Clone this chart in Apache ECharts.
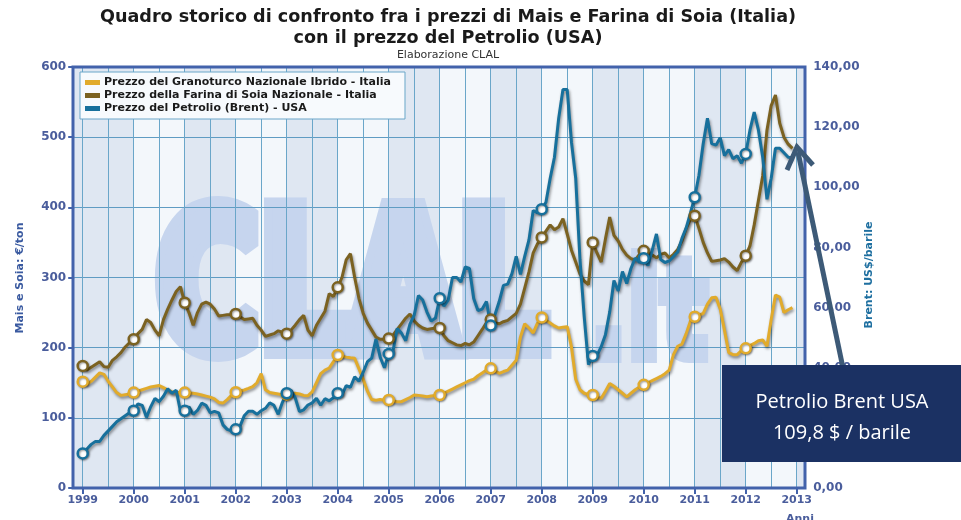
<!DOCTYPE html>
<html>
<head>
<meta charset="utf-8">
<script src="https://cdn.jsdelivr.net/npm/echarts@6/dist/echarts.min.js"></script>
<style>
  html, body { margin: 0; padding: 0; background: #fff; }
  #chart { width: 961px; height: 520px; }
</style>
</head>
<body>
<div id="chart"></div>
<script>
/* ---------------------------- data (monthly) ---------------------------- */

var years = [1999, 2000, 2001, 2002, 2003, 2004, 2005, 2006, 2007, 2008, 2009, 2010, 2011, 2012, 2013];

var seriesNames = [
    'Prezzo del Granoturco Nazionale Ibrido - Italia',
    'Prezzo della Farina di Soia Nazionale - Italia',
    'Prezzo del Petrolio (Brent) - USA'
];

// €/ton, Jan 1999 .. Dec 2012
var maize = [
    151.5, 148, 152, 158, 164, 162, 152, 144, 136, 132, 133, 134,
    136, 138, 140, 142, 144, 145, 146, 143, 140, 137, 136, 136,
    136, 135.5, 135, 134, 132.5, 131, 129.5, 127, 122, 121, 126, 132,
    136.4, 138, 139.7, 142, 144.4, 150, 163, 140, 136, 135, 134, 133,
    133, 134, 135, 134, 132, 131.6, 137, 150, 163, 168, 171, 180,
    189.5, 188, 186.5, 185.5, 184.8, 170, 155, 138, 126, 125, 126, 125,
    125.4, 124, 123, 123, 126, 129, 132.5, 132, 131, 130, 131, 132,
    132.5, 135, 138, 141, 144, 147, 150, 153, 155, 160, 164, 168,
    170.6, 167, 163.5, 166, 168, 175, 182, 215, 234, 228, 221, 235,
    243, 239, 235, 231, 228, 229, 230, 201, 155, 140, 135, 133,
    132.5, 129, 128, 138, 149, 145, 140, 135, 130, 135, 140, 144,
    147, 150, 153, 156, 159, 163, 168, 190, 202, 205, 220, 238,
    244, 246, 249, 262, 271, 272, 255, 225, 193, 190, 190, 196,
    199, 203, 206, 210, 211, 202, 240, 275, 272, 250, 254, 257
];

// €/ton, Jan 1999 .. Dec 2012
var soy = [
    174, 168, 172, 176, 180, 173, 172, 182, 187, 193, 201, 207,
    212, 220, 226, 240, 236, 225, 217, 240, 255, 268, 280, 287,
    264, 250, 232, 250, 262, 265, 262, 255, 245, 246, 247, 247,
    248, 244, 240, 241, 242, 232, 225, 216, 218, 220, 224, 222,
    220, 225, 232, 240, 246, 225, 217, 232, 242, 252, 277, 273,
    286, 300, 325, 334, 300, 270, 249, 235, 225, 215, 212, 212,
    213, 218, 226, 234, 242, 248, 238, 232, 228, 226, 227, 228,
    228, 217, 210, 207, 204, 203, 206, 204, 208, 217, 226, 236,
    240, 236, 234, 237, 239, 244, 249, 262, 285, 308, 335, 348,
    357, 366, 375, 368, 372, 384, 362, 339, 322, 305, 295, 290,
    350, 335, 322, 355, 386, 360, 352, 340, 332, 327, 325, 333,
    338, 335, 332, 328, 333, 335, 328, 333, 340, 352, 370, 383,
    388, 370, 350, 335, 323, 324, 325, 327, 322, 315, 310, 322,
    331, 345, 375, 410, 445, 510, 545, 560, 520, 500, 490, 484
];

// US$/barile, Jan 1999 .. Dec 2012
var brent = [
    11.5, 13, 14.5, 15.5, 15.5, 17.5, 19, 20.5, 22, 23, 24, 25,
    25.7, 28, 27.5, 23.5, 27, 29.8, 28.7, 30.5, 33, 31.5, 32.5, 25.5,
    25.7, 27, 24.5, 25.8, 28.2, 27.5, 25, 25.5, 25, 21, 19.5, 19,
    19.5, 20.5, 24, 25.5, 25.5, 24.5, 25.7, 26.5, 28.3, 27.5, 24.5, 28.5,
    31.5, 32.5, 30, 25.4, 26, 27.6, 28.3, 29.8, 27.5, 29.7, 29, 30,
    31.5, 31, 34, 33.5, 37, 35.5, 38.5, 42, 43.2, 49.5, 43.5, 40,
    44.6, 45.5, 53, 51.5, 49, 54.5, 57.5, 64, 62.5, 58.5, 55.5, 56.5,
    63.1, 60.5, 62.5, 70, 70, 68.5, 73.5, 73, 63, 59, 59.5, 62,
    54, 57.6, 62, 67.4, 67.8, 71.3, 77, 71, 77, 82.5, 92.3, 91.5,
    92.7, 95, 103, 110, 123, 132.5, 132.5, 115, 103, 76, 57, 41,
    43.9, 44, 47, 51, 58.5, 69, 65.5, 72, 68, 73, 76.5, 75,
    76.4, 74, 79, 84.5, 76, 75, 75.5, 77, 78.5, 83, 86.5, 91.5,
    96.7, 104, 114.5, 123, 114.5, 114, 116.5, 110.5, 112.5, 109.5, 110.5, 108,
    111.1, 119, 125, 119, 110, 96, 103, 113, 113, 111.5, 110, 109.8
];

var lastBrentLabel = '109,8 $ / barile';

/* ------------------------------- helpers -------------------------------- */

function pad2(n) { return (n < 10 ? '0' : '') + n; }

// month categories: Nov 1998 .. Mar 2013
var months = ['1998-11', '1998-12'];
years.forEach(function (y) {
    var last = y === 2013 ? 3 : 12;
    for (var m = 1; m <= last; m++) months.push(y + '-' + pad2(m));
});

// january points carry the round marker
function toSeriesData(values) {
    var out = [null, null];
    values.forEach(function (v, i) {
        out.push(i % 12 === 0 ? { value: v, symbol: 'circle', symbolSize: 10 } : v);
    });
    return out;
}

// alternating yearly bands
var bands = [[{ xAxis: '1998-11' }, { xAxis: '2000-01' }]];
for (var y = 2001; y <= 2011; y += 2) {
    bands.push([{ xAxis: y + '-01' }, { xAxis: (y + 1) + '-01' }]);
}
bands.push([{ xAxis: '2013-01' }, { xAxis: '2013-03' }]);

var colors = ['#e1ab2c', '#7b6221', '#17709c'];
var axisBlue = '#4262ab';
var labelBlue = '#4a5d9c';
var gridLine = '#6aa6c9';
var markColor = '#c6d5ee';
var font = '"DejaVu Sans", Verdana, sans-serif';

function lineSeries(idx, values, yAxisIndex) {
    return {
        name: seriesNames[idx],
        type: 'line',
        yAxisIndex: yAxisIndex,
        data: toSeriesData(values),
        symbol: 'none',
        showSymbol: true,
        showAllSymbol: true,
        z: 5,
        silent: true,
        lineStyle: {
            color: colors[idx],
            width: 3,
            shadowColor: 'rgba(0,0,0,0.45)',
            shadowBlur: 3,
            shadowOffsetX: 1,
            shadowOffsetY: 2
        },
        itemStyle: {
            color: '#ffffff',
            borderColor: colors[idx],
            borderWidth: 2.5,
            shadowColor: 'rgba(0,0,0,0.4)',
            shadowBlur: 2,
            shadowOffsetX: 1,
            shadowOffsetY: 1
        },
        emphasis: { disabled: true }
    };
}

/* -------------------------------- chart --------------------------------- */

var chart = echarts.init(document.getElementById('chart'));

chart.setOption({
    animation: false,
    backgroundColor: '#ffffff',
    title: {
        text: 'Quadro storico di confronto fra i prezzi di Mais e Farina di Soia (Italia)\ncon il prezzo del Petrolio (USA)',
        subtext: 'Elaborazione CLAL',
        left: 443,
        top: 2,
        textAlign: 'center',
        itemGap: 0,
        textStyle: { fontFamily: font, fontSize: 17.6, fontWeight: 'bold', color: '#1a1a1a', lineHeight: 21 },
        subtextStyle: { fontFamily: font, fontSize: 11, color: '#333', lineHeight: 12 }
    },
    legend: {
        orient: 'vertical',
        left: 80,
        top: 72,
        icon: 'rect',
        itemWidth: 15,
        itemHeight: 5,
        itemGap: 2,
        padding: [5, 14, 5, 5],
        backgroundColor: '#f7fafd',
        borderColor: gridLine,
        borderWidth: 1,
        z: 7,
        selectedMode: false,
        textStyle: { fontFamily: font, fontSize: 11, fontWeight: 'bold', color: '#1a1a1a', padding: [0, 0, 0, -1] },
        data: seriesNames.map(function (n, i) {
            return { name: n, itemStyle: { color: colors[i], borderWidth: 0, shadowBlur: 0 } };
        })
    },
    grid: {
        left: 74.2,
        right: 155.8,
        top: 67,
        bottom: 32,
        show: true,
        backgroundColor: '#f3f7fb',
        borderWidth: 0
    },
    xAxis: {
        type: 'category',
        data: months,
        boundaryGap: false,
        z: 3,
        axisLine: { show: false },
        axisTick: {
            show: true,
            length: 6,
            interval: function (i, v) { return v.slice(5) === '01'; },
            lineStyle: { color: axisBlue, width: 2 }
        },
        axisLabel: {
            interval: function (i, v) { return v.slice(5) === '01'; },
            formatter: function (v) { return v.slice(0, 4); },
            margin: 7,
            fontFamily: font,
            fontSize: 11,
            fontWeight: 'bold',
            color: labelBlue
        },
        splitLine: {
            show: true,
            interval: function (i, v) { var m = v.slice(5); return m === '01' || m === '07'; },
            lineStyle: { color: gridLine, width: 1 }
        }
    },
    yAxis: [{
        type: 'value',
        min: 0,
        max: 600,
        interval: 100,
        z: 3,
        axisLine: { show: false },
        axisTick: { show: true, length: 6, lineStyle: { color: axisBlue, width: 2 } },
        axisLabel: { margin: 8, fontFamily: font, fontSize: 12, fontWeight: 'bold', color: labelBlue },
        splitLine: { show: true, lineStyle: { color: '#5f9cc3', width: 1 } }
    }, {
        type: 'value',
        min: 0,
        max: 140,
        interval: 20,
        position: 'right',
        z: 3,
        axisLine: { show: false },
        axisTick: { show: false },
        axisLabel: {
            margin: 8,
            fontFamily: font,
            fontSize: 12,
            fontWeight: 'bold',
            color: labelBlue,
            formatter: function (v) { return v.toFixed(2).replace('.', ','); }
        },
        splitLine: { show: false }
    }],
    series: [
        (function () {
            var s = lineSeries(0, maize, 0);
            s.markArea = { silent: true, z: 1, itemStyle: { color: '#dfe7f2', borderWidth: 0 }, data: bands };
            return s;
        })(),
        lineSeries(1, soy, 0),
        lineSeries(2, brent, 1)
    ],
    graphic: [
        // watermark
        {
            type: 'text', x: 156, y: 299, scaleX: 0.74, z: 2, silent: true,
            style: {
                text: 'CLAL', fill: markColor, stroke: markColor, lineWidth: 22, lineJoin: 'round',
                font: 'bold 190px "DejaVu Sans"', align: 'left', verticalAlign: 'middle', textAlign: 'left', textVerticalAlign: 'middle'
            }
        },
        {
            type: 'text', x: 590, y: 322, scaleX: 0.72, z: 2, silent: true,
            style: {
                text: '.it', fill: markColor, stroke: markColor, lineWidth: 12, lineJoin: 'round',
                font: 'bold 136px "DejaVu Sans"', align: 'left', verticalAlign: 'middle', textAlign: 'left', textVerticalAlign: 'middle'
            }
        },
        // plot frame
        {
            type: 'rect', z: 6, silent: true,
            shape: { x: 73, y: 67, width: 732, height: 421 },
            style: { fill: 'none', stroke: axisBlue, lineWidth: 3 }
        },
        // axis names
        {
            type: 'text', x: 20, y: 278, rotation: Math.PI / 2, z: 6,
            style: { text: 'Mais e Soia: €/ton', fill: '#3a5aa0', font: 'bold 11px "DejaVu Sans"', align: 'center', verticalAlign: 'middle', textAlign: 'center', textVerticalAlign: 'middle' }
        },
        {
            type: 'text', x: 869, y: 275, rotation: Math.PI / 2, z: 6,
            style: { text: 'Brent: US$/barile', fill: '#1e6fa0', font: 'bold 11px "DejaVu Sans"', align: 'center', verticalAlign: 'middle', textAlign: 'center', textVerticalAlign: 'middle' }
        },
        {
            type: 'text', x: 800, y: 514, z: 6,
            style: { text: 'Anni', fill: labelBlue, font: 'bold 11px "DejaVu Sans"', align: 'center', verticalAlign: 'top', textAlign: 'center', textVerticalAlign: 'top' }
        },
        // annotation arrow
        {
            type: 'line', z: 9, silent: true,
            shape: { x1: 843, y1: 368, x2: 798, y2: 152 },
            style: { stroke: '#3d5a77', lineWidth: 5 }
        },
        {
            type: 'polyline', z: 9, silent: true,
            shape: { points: [[787, 170], [797, 147], [813, 165]] },
            style: { stroke: '#3d5a77', lineWidth: 5, fill: 'none' }
        },
        // annotation box
        {
            type: 'rect', z: 10, silent: true,
            shape: { x: 722, y: 365, width: 239, height: 97 },
            style: { fill: '#1b3163' }
        },
        {
            type: 'text', x: 842, y: 402, z: 11,
            style: { text: 'Petrolio Brent USA', fill: '#ffffff', font: '20px "Open Sans"', align: 'center', verticalAlign: 'middle', textAlign: 'center', textVerticalAlign: 'middle' }
        },
        {
            type: 'text', x: 842, y: 433, z: 11,
            style: { text: lastBrentLabel, fill: '#ffffff', font: '20px "Open Sans"', align: 'center', verticalAlign: 'middle', textAlign: 'center', textVerticalAlign: 'middle' }
        }
    ]
});
</script>
</body>
</html>
